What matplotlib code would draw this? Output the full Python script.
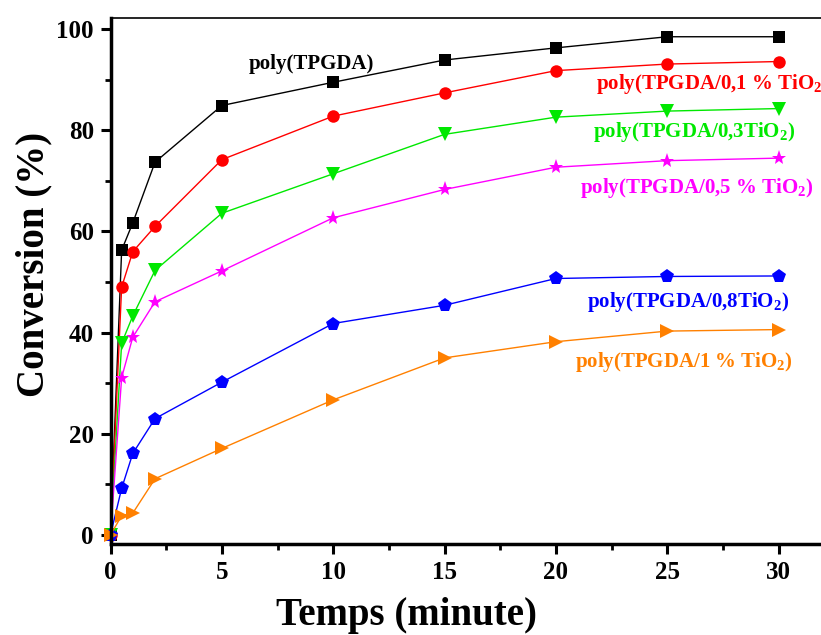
import numpy as np
import matplotlib.pyplot as plt
from matplotlib.ticker import MultipleLocator

plt.rcParams.update({
    "font.family": "Liberation Serif",
    "font.weight": "bold",
    "mathtext.fontset": "custom",
    "mathtext.rm": "Liberation Serif:bold",
    "mathtext.bf": "Liberation Serif:bold",
    "mathtext.it": "Liberation Serif:bold",
})

# time (minute)
temps = [0, 0.5, 1, 2, 5, 10, 15, 20, 25, 30]

# conversion (%) per sample
tpgda = [0, 56.3, 61.7, 73.7, 84.9, 89.5, 93.9, 96.3, 98.5, 98.5]
tio2_01 = [0, 49.0, 56.0, 61.0, 74.2, 82.8, 87.4, 91.8, 93.1, 93.6]
tio2_03 = [0, 37.9, 43.3, 52.3, 63.6, 71.4, 79.2, 82.6, 83.8, 84.3]
tio2_05 = [0, 31.1, 39.1, 46.1, 52.2, 62.7, 68.3, 72.7, 74.0, 74.5]
tio2_08 = [0, 9.2, 16.1, 23.0, 30.2, 41.8, 45.4, 50.7, 51.1, 51.2]
tio2_1 = [0, 3.8, 4.3, 11.1, 17.1, 26.7, 35.0, 38.2, 40.3, 40.6]

series = [tpgda, tio2_01, tio2_03, tio2_05, tio2_08, tio2_1]
labels = [
    "poly(TPGDA)",
    r"poly(TPGDA/0,1 % TiO$_\mathbf{2}$)",
    r"poly(TPGDA/0,3TiO$_\mathbf{2}$)",
    r"poly(TPGDA/0,5 % TiO$_\mathbf{2}$)",
    r"poly(TPGDA/0,8TiO$_\mathbf{2}$)",
    r"poly(TPGDA/1 % TiO$_\mathbf{2}$)",
]
label_x = [6.2, 21.8, 21.65, 21.1, 21.4, 20.85]
label_y = [93.2, 89.2, 79.6, 68.6, 46.1, 34.1]

colors = ["black", "#ff0000", "#00e800", "#ff00ff", "#0000ff", "#ff8000"]
markers = ["s", "o", "v", "*", "p", ">"]
sizes = [8.5, 9, 10, 11, 10, 10]

fig = plt.figure(figsize=(8.21, 6.35), dpi=100)
ax = fig.add_axes([0.1346, 0.1433, 0.868, 0.8283])

for y, c, m, s in zip(series, colors, markers, sizes):
    ax.plot(temps, y, color=c, marker=m, markersize=s, linewidth=1,
            markeredgewidth=0, clip_on=False)

for lab, lx, ly, c in zip(labels, label_x, label_y, colors):
    ax.text(lx, ly, lab, color=c, fontsize=15, fontweight="bold",
            ha="left", va="center")

ax.set_xlim(0, 32)
ax.set_ylim(-1.8, 102.2)
ax.xaxis.set_major_locator(MultipleLocator(5))
ax.xaxis.set_minor_locator(MultipleLocator(2.5))
ax.yaxis.set_major_locator(MultipleLocator(20))
ax.yaxis.set_minor_locator(MultipleLocator(10))

ax.tick_params(which="major", direction="out", length=7, width=2.2,
               labelsize=18, pad=5)
ax.tick_params(which="minor", direction="out", length=4, width=2)
ax.spines["left"].set_linewidth(2.5)
ax.spines["bottom"].set_linewidth(2.5)
ax.spines["top"].set_linewidth(1.2)
ax.spines["right"].set_linewidth(1.2)

ax.set_xlabel("Temps (minute)", fontsize=28, fontweight="bold")
ax.set_ylabel("Conversion (%)", fontsize=28, fontweight="bold")
ax.xaxis.set_label_coords(0.415, -0.1)
ax.yaxis.set_label_coords(-0.082, 0.532)

fig.savefig("out.png", dpi=100)
